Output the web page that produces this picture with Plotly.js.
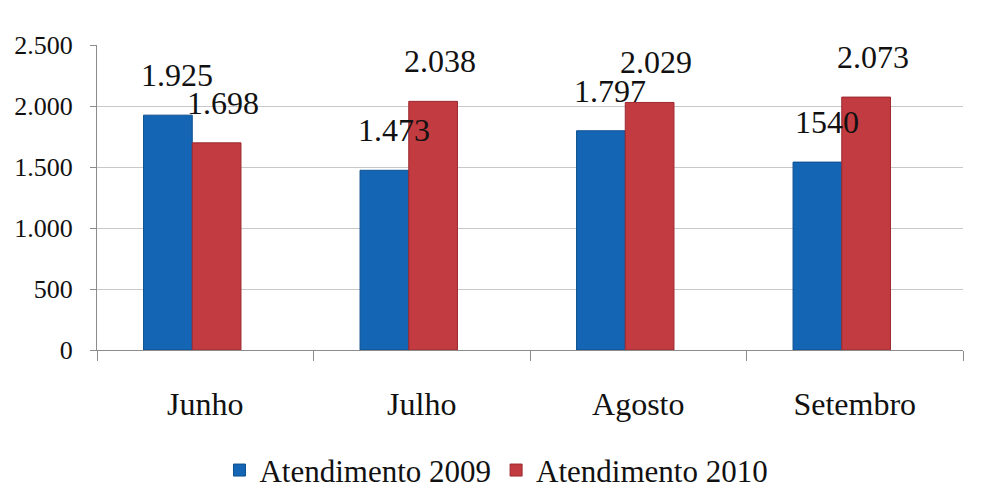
<!DOCTYPE html>
<html>
<head>
<meta charset="utf-8">
<script src="https://cdn.plot.ly/plotly-3.0.1.min.js"></script>
<style>html,body{margin:0;padding:0;background:#fff;}#chart{width:989px;height:490px;}</style>
</head>
<body>
<div id="chart"></div>
<script>
const months = ["Junho", "Julho", "Agosto", "Setembro"];
const series2009 = [1925, 1473, 1797, 1540];
const series2010 = [1698, 2038, 2029, 2073];
const labels2009 = ["1.925", "1.473", "1.797", "1540"];
const labels2010 = ["1.698", "2.038", "2.029", "2.073"];
const yTicks = [0, 500, 1000, 1500, 2000, 2500];
const yTickText = ["0", "500", "1.000", "1.500", "2.000", "2.500"];

const serif = "Liberation Serif, Times New Roman, serif";

const traces = [
  {
    type: "bar", name: "Atendimento 2009", x: months, y: series2009,
    marker: {color: "#1466b4", line: {color: "#0d4f8f", width: 1}},
    width: 0.225, offset: -0.285
  },
  {
    type: "bar", name: "Atendimento 2010", x: months, y: series2010,
    marker: {color: "#c23b40", line: {color: "#9c2a2f", width: 1}},
    width: 0.225, offset: -0.06
  }
];

const labelFont = {family: serif, size: 32, color: "#111"};
const annotations = [];
months.forEach((m, i) => {
  annotations.push({x: m, y: series2009[i], xref: "x", yref: "y", text: labels2009[i],
    showarrow: false, yanchor: "bottom", xanchor: "center", xshift: -28, yshift: 20, font: labelFont});
  annotations.push({x: m, y: series2010[i], xref: "x", yref: "y", text: labels2010[i],
    showarrow: false, yanchor: "bottom", xanchor: "center", xshift: 18, yshift: 20, font: labelFont});
});

const layout = {
  width: 989, height: 490,
  margin: {l: 97, r: 26, t: 45, b: 140},
  paper_bgcolor: "#ffffff", plot_bgcolor: "#ffffff",
  barmode: "group",
  showlegend: true,
  annotations: annotations,
  legend: {
    orientation: "h", xref: "container", yref: "container",
    x: 0.502, xanchor: "center", y: 0.04, yanchor: "middle",
    font: {family: serif, size: 31, color: "#111"},
    itemwidth: 20, tracegroupgap: 0
  },
  xaxis: {
    type: "category",
    showline: true, linecolor: "#8c8c8c", linewidth: 1,
    ticks: "outside", tickson: "boundaries", ticklen: 10, tickcolor: "#8c8c8c",
    ticklabelstandoff: 26,
    tickfont: {family: serif, size: 32, color: "#111"},
    showgrid: false
  },
  yaxis: {
    range: [0, 2500], tickvals: yTicks, ticktext: yTickText,
    showline: true, linecolor: "#8c8c8c", linewidth: 1,
    ticks: "outside", ticklen: 6, tickcolor: "#8c8c8c",
    ticklabelstandoff: 12,
    showgrid: true, gridcolor: "#c8c8c8", gridwidth: 1,
    zeroline: false,
    tickfont: {family: serif, size: 26, color: "#111"}
  }
};

Plotly.newPlot("chart", traces, layout, {displayModeBar: false, staticPlot: true});
</script>
</body>
</html>
